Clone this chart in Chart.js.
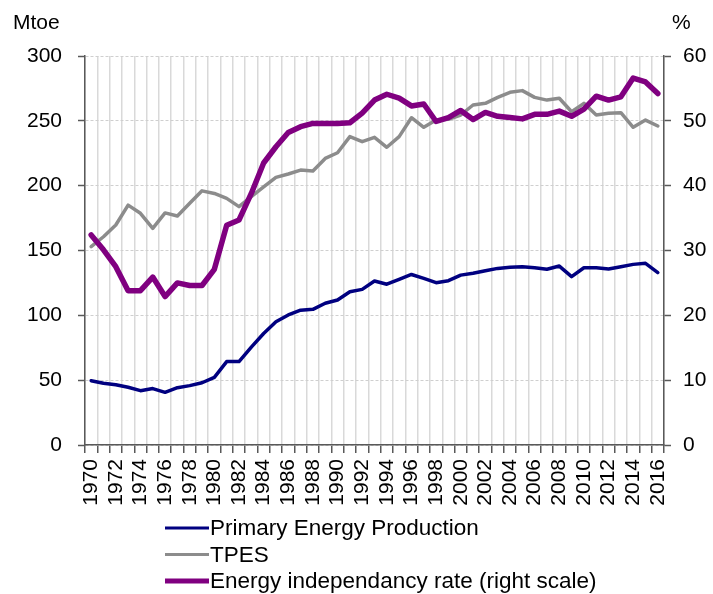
<!DOCTYPE html>
<html>
<head>
<meta charset="utf-8">
<script src="https://cdn.jsdelivr.net/npm/chart.js@4.4.0/dist/chart.umd.min.js"></script>
<style>
  html, body { margin: 0; padding: 0; background: #fff; }
  #wrap { position: relative; width: 713px; height: 594px; }
</style>
</head>
<body>
<div id="wrap"><canvas id="c" width="713" height="594"></canvas></div>
<script>
// Données (Mtoe à gauche, % à droite)
const years = ['1970', '1971', '1972', '1973', '1974', '1975', '1976', '1977', '1978', '1979',
  '1980', '1981', '1982', '1983', '1984', '1985', '1986', '1987', '1988', '1989',
  '1990', '1991', '1992', '1993', '1994', '1995', '1996', '1997', '1998', '1999',
  '2000', '2001', '2002', '2003', '2004', '2005', '2006', '2007', '2008', '2009',
  '2010', '2011', '2012', '2013', '2014', '2015', '2016'];

const production = [49.6, 47.6, 46.5, 44.5, 41.9, 43.5, 40.6, 44.2, 45.8, 48.0,
  52.2, 64.3, 64.3, 75.5, 86.0, 95.0, 100.3, 104.0, 104.6, 109.3,
  111.8, 118.2, 120.0, 126.5, 124.0, 127.8, 131.5, 128.5, 125.2, 126.7,
  131.0, 132.4, 134.4, 136.2, 137.0, 137.5, 136.7, 135.5, 138.0, 129.8,
  136.7, 136.7, 135.8, 137.5, 139.3, 140.1, 133.0];

const tpes = [153.0, 160.6, 169.7, 185.0, 178.7, 167.0, 179.0, 176.6, 186.4, 196.0,
  194.0, 190.2, 183.8, 191.5, 199.0, 206.4, 209.0, 212.0, 211.3, 221.0,
  225.4, 237.8, 233.9, 237.3, 229.6, 237.8, 252.4, 245.0, 250.6, 251.2,
  254.5, 262.2, 263.5, 268.1, 272.0, 273.3, 268.1, 266.0, 267.4, 257.0,
  263.5, 254.5, 255.8, 256.3, 245.0, 250.6, 246.0];

const independency = [32.4, 30.1, 27.5, 23.8, 23.8, 25.9, 22.9, 25.0, 24.6, 24.6,
  27.1, 33.9, 34.7, 38.8, 43.5, 46.0, 48.2, 49.1, 49.6, 49.6,
  49.6, 49.7, 51.2, 53.2, 54.1, 53.5, 52.3, 52.6, 49.9, 50.5,
  51.6, 50.2, 51.3, 50.7, 50.5, 50.3, 51.0, 51.0, 51.5, 50.7,
  51.8, 53.8, 53.2, 53.7, 56.6, 56.0, 54.2];

const seriesNames = ['Primary Energy Production', 'TPES', 'Energy independancy rate (right scale)'];
const unitLeft = 'Mtoe';
const unitRight = '%';

const FONT = "'Liberation Sans', Arial, sans-serif";
const AXIS = '#595959';
const colors = ['#000080', '#8c8c8c', '#800080'];
const widths = [3.5, 3.5, 5.5];

// légende verticale + unités, dessinées à la main
const extras = {
  id: 'extras',
  afterDraw(chart) {
    const ctx = chart.ctx;
    ctx.save();
    ctx.font = `21px ${FONT}`;
    ctx.fillStyle = '#000';
    ctx.textBaseline = 'alphabetic';
    ctx.textAlign = 'left';
    ctx.fillText(unitLeft, 13, 29);
    ctx.fillText(unitRight, 672, 29);

    const rows = [528, 554.5, 581];
    ctx.font = `22.5px ${FONT}`;
    ctx.textBaseline = 'middle';
    seriesNames.forEach((name, i) => {
      ctx.strokeStyle = colors[i];
      ctx.lineWidth = widths[i] - 0.5;
      ctx.beginPath();
      ctx.moveTo(165, rows[i]);
      ctx.lineTo(209, rows[i]);
      ctx.stroke();
      ctx.fillText(name, 210, rows[i] + 1);
    });
    ctx.restore();
  }
};

new Chart(document.getElementById('c'), {
  type: 'line',
  data: {
    labels: years,
    datasets: [
      { label: seriesNames[0], data: production, yAxisID: 'y', borderColor: colors[0], borderWidth: widths[0], order: 2 },
      { label: seriesNames[1], data: tpes, yAxisID: 'y', borderColor: colors[1], borderWidth: widths[1], order: 1 },
      { label: seriesNames[2], data: independency, yAxisID: 'y2', borderColor: colors[2], borderWidth: widths[2], order: 0 },
    ],
  },
  options: {
    responsive: false,
    animation: false,
    devicePixelRatio: 1,
    layout: { padding: { top: 56, left: 0, right: 0, bottom: 0 } },
    elements: {
      point: { radius: 0, hoverRadius: 0 },
      line: { tension: 0, fill: false, borderJoinStyle: 'round', borderCapStyle: 'round' },
    },
    plugins: { legend: { display: false }, tooltip: { enabled: false } },
    scales: {
      x: {
        offset: true,
        grid: { offset: true, color: '#d9d9d9', lineWidth: 1.5, tickLength: 8, tickColor: AXIS, tickWidth: 1.5 },
        border: { color: AXIS, width: 1.5 },
        ticks: {
          autoSkip: false, maxRotation: 90, minRotation: 90, padding: 6,
          color: '#000', font: { family: FONT, size: 21 },
          callback: (v, i) => (i % 2 === 0 ? years[i] : ''),
        },
        afterFit: s => { s.height = 149; },
      },
      y: {
        position: 'left', min: 0, max: 300,
        grid: { color: '#cfcfcf', lineWidth: 1, tickLength: 7, tickColor: AXIS, tickWidth: 1.5 },
        border: { color: AXIS, width: 1.5, dash: [3, 2] },
        ticks: { stepSize: 50, padding: 16, color: '#000', font: { family: FONT, size: 21 } },
        afterFit: s => { s.width = 85; },
      },
      y2: {
        position: 'right', min: 0, max: 60,
        grid: { drawOnChartArea: false, tickLength: 7, tickColor: AXIS, tickWidth: 1.5 },
        border: { color: AXIS, width: 1.5 },
        ticks: { stepSize: 10, padding: 12, color: '#000', font: { family: FONT, size: 21 } },
        afterFit: s => { s.width = 49; },
      },
    },
  },
  plugins: [extras],
});
</script>
</body>
</html>
